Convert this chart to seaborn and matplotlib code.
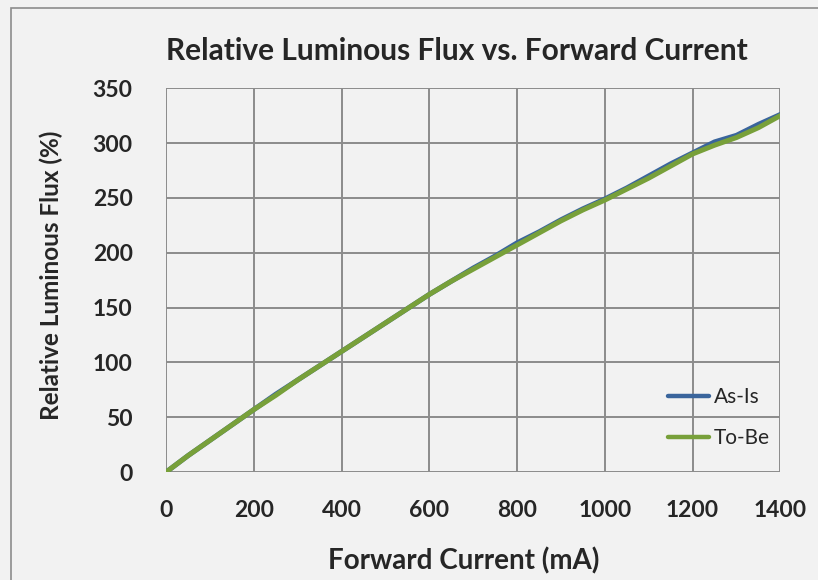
import pandas as pd
import seaborn as sns
import matplotlib.pyplot as plt
from matplotlib.patches import Rectangle

# Forward current (mA) and relative luminous flux (%)
current = [0, 50, 100, 150, 200, 250, 300, 350, 400, 450, 500, 550, 600, 650, 700,
           750, 800, 850, 900, 950, 1000, 1050, 1100, 1150, 1200, 1250, 1300, 1350, 1400]
as_is = [0, 15, 29, 43, 57, 71, 84, 97, 110, 123, 136, 149, 162, 174, 186,
         197, 209, 219, 230, 240, 249, 259, 270, 281, 291, 301, 307, 317, 326]
to_be = [0, 15, 29, 43, 57, 70, 84, 97, 110, 123, 136, 149, 162, 174, 185,
         196, 207, 218, 229, 239, 248, 258, 268, 279, 290, 298, 305, 314, 325]

series_names = ["As-Is", "To-Be"]
colors = ["#3a659c", "#78a03a"]

df = pd.concat([
    pd.DataFrame({"current": current, "flux": as_is, "series": "As-Is"}),
    pd.DataFrame({"current": current, "flux": to_be, "series": "To-Be"}),
])

sns.set_style("white")
plt.rcParams["font.family"] = ["Lato", "DejaVu Sans"]

fig = plt.figure(figsize=(8.18, 5.80), dpi=100, facecolor="#f2f2f2")
ax = fig.add_axes([0.203, 0.186, 0.751, 0.662])
ax.set_facecolor("#f2f2f2")

# outer chart border
fig.patches.append(Rectangle((0.0135, -0.1), 1.2, 1.086, transform=fig.transFigure,
                             fill=False, edgecolor="#8c8c8c", linewidth=1.2))

sns.lineplot(data=df, x="current", y="flux", hue="series", hue_order=series_names,
             palette=colors, linewidth=3.6, ax=ax)

ax.set_xlim(0, 1400)
ax.set_ylim(0, 350)
ax.set_xticks(range(0, 1401, 200))
ax.set_yticks(range(0, 351, 50))
ax.grid(True, color="#8c8c8c", linewidth=1.4)
ax.set_axisbelow(True)
for side in ["top", "right", "left", "bottom"]:
    ax.spines[side].set_visible(False)
ax.tick_params(axis="both", length=6, width=1.4, color="#8c8c8c", labelsize=16.5)
ax.tick_params(axis="y", pad=18)
ax.tick_params(axis="x", pad=14)
for lbl in ax.get_xticklabels() + ax.get_yticklabels():
    lbl.set_fontweight("bold")

ax.set_xlabel("Forward Current (mA)", fontsize=20, fontweight="bold", va="center")
ax.xaxis.set_label_coords(0.4845, -0.232)
ax.set_ylabel("Relative Luminous Flux (%)", fontsize=17.5, fontweight="bold", va="center")
ax.yaxis.set_label_coords(-0.186, 0.512)
fig.text(0.558, 0.912, "Relative Luminous Flux vs. Forward Current", ha="center",
         va="center", fontsize=21.5, fontweight="bold")

ax.legend(loc="lower right", bbox_to_anchor=(1.013, 0.014), frameon=False,
          fontsize=15, handlelength=2.0, handletextpad=0.2, labelspacing=1.0)
for line in ax.get_legend().get_lines():
    line.set_linewidth(3.2)

plt.savefig("out.png", dpi=100, facecolor=fig.get_facecolor())
plt.close()
